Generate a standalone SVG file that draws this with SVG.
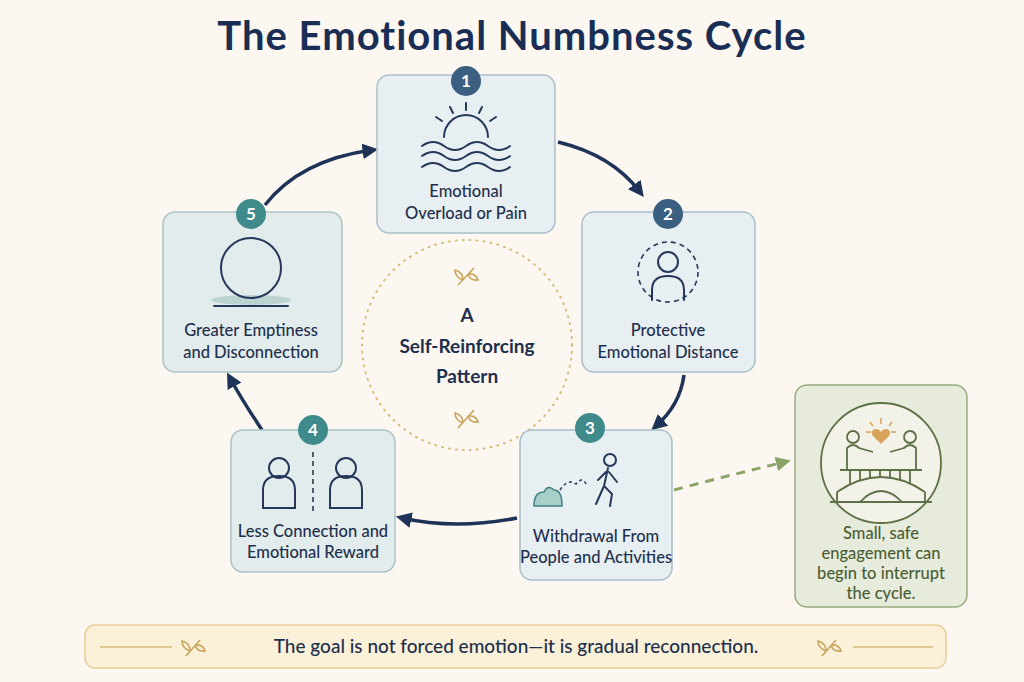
<svg xmlns="http://www.w3.org/2000/svg" width="1024" height="682" viewBox="0 0 1024 682">
<defs>
<style>
text{font-family:"Lato","Liberation Sans",sans-serif;}
.node{fill:#e8eff3;stroke:#a9bfcc;stroke-width:1.5;}
.node5{fill:#e3ecec;stroke:#a9c2c4;stroke-width:1.5;}
.lbl{fill:#1e2f4d;font-size:16.5px;font-weight:500;text-anchor:middle;}
.ic{fill:none;stroke:#26385a;stroke-width:2;stroke-linecap:round;}
.bn{fill:#fff;font-size:17px;font-weight:bold;text-anchor:middle;}
.arr{fill:none;stroke:#1f3358;stroke-width:3.5;marker-end:url(#ah);}
.leaf{fill:none;stroke:#c9a45a;stroke-width:1.6;}
.nt{fill:#4b5e32;font-size:16.5px;font-weight:500;text-anchor:middle;}
</style>
<marker id="ah" viewBox="0 0 10 10" refX="6" refY="5" markerWidth="4.5" markerHeight="4.5" orient="auto"><path d="M0,0 L10,5 L0,10 z" fill="#1f3358"/></marker>
<marker id="gh" viewBox="0 0 10 10" refX="6" refY="5" markerWidth="5" markerHeight="5" orient="auto"><path d="M0,0 L10,5 L0,10 z" fill="#8aa56a"/></marker>
</defs>
<rect width="1024" height="682" fill="#fcf8f1"/>
<text x="512" y="50" text-anchor="middle" font-size="40" font-weight="bold" letter-spacing="1" fill="#1a2e55">The Emotional Numbness Cycle</text>

<g id="connectors">
<path class="arr" d="M265,205 Q300,160 372,150"/>
<path class="arr" d="M558,142 Q612,155 640,192"/>
<path class="arr" d="M684,375 Q680,405 656,426"/>
<path class="arr" d="M517,518 Q455,530 402,518"/>
<path class="arr" d="M262,430 Q242,400 230,378"/>
<path d="M674,490 Q730,475 785,462" fill="none" stroke="#8aa56a" stroke-width="3" stroke-dasharray="9,7" marker-end="url(#gh)"/>
</g>

<g id="center">
<circle cx="467" cy="345" r="105" fill="none" stroke="#d9b978" stroke-width="2" stroke-dasharray="1,6" stroke-linecap="round"/>
<text x="467" y="322" text-anchor="middle" font-size="19" font-weight="bold" fill="#1e2f4d">A</text>
<text x="467" y="353" text-anchor="middle" font-size="19" font-weight="bold" fill="#1e2f4d">Self-Reinforcing</text>
<text x="467" y="383" text-anchor="middle" font-size="19" font-weight="bold" fill="#1e2f4d">Pattern</text>
<path class="leaf" d="M458,285 L474,268 M463,280 q-8,-3 -8,-10 q8,2 8,10 M468,274 q8,-1 10,6 q-8,1 -10,-6"/>
<path class="leaf" d="M458,428 L474,410 M463,423 q-8,-3 -8,-10 q8,2 8,10 M468,416 q8,-1 10,6 q-8,1 -10,-6"/>
</g>

<g id="node1">
<rect class="node" x="377" y="75" width="178" height="158" rx="12"/>
<path class="ic" d="M444,137 a22,22 0 0 1 44,0 M466,103 v7 M450,107 l3,6 M482,107 l-3,6 M436,117 l6,4 M496,117 l-6,4"/>
<path class="ic" d="M422,146 q11,-8 22,0 t22,0 t22,0 t22,0 M422,156 q11,-8 22,0 t22,0 t22,0 t22,0 M422,167 q11,-8 22,0 t22,0 t22,0 t22,0"/>
<text class="lbl" x="466" y="197">Emotional</text>
<text class="lbl" x="466" y="219">Overload or Pain</text>
<circle cx="466" cy="81" r="15" fill="#3b5f80"/><text class="bn" x="466" y="87">1</text>
</g>

<g id="node2">
<rect class="node" x="582" y="212" width="173" height="160" rx="12"/>
<circle cx="668" cy="272" r="30" fill="none" stroke="#26385a" stroke-width="1.6" stroke-dasharray="5,4"/>
<circle class="ic" cx="668" cy="262" r="10"/>
<path class="ic" d="M652,300 v-10 q0,-14 16,-14 q16,0 16,14 v10"/>
<text class="lbl" x="668" y="336">Protective</text>
<text class="lbl" x="668" y="358">Emotional Distance</text>
<circle cx="668" cy="214" r="15" fill="#3b5f80"/><text class="bn" x="668" y="220">2</text>
</g>

<g id="node3">
<rect class="node" x="520" y="430" width="152" height="150" rx="12"/>
<path d="M534,506 q0,-14 10,-14 q4,-8 10,-2 q8,0 8,16 z" fill="#a9cfc9" stroke="#3f7f82" stroke-width="1.5"/>
<path d="M560,490 q8,-12 16,-6 q6,-8 10,0" fill="none" stroke="#26385a" stroke-width="1.5" stroke-dasharray="3,3"/>
<circle class="ic" cx="610" cy="460" r="6"/>
<path class="ic" d="M608,468 l-4,18 l8,8 l-2,12 M604,486 l-8,18 M606,472 l-8,8 M609,472 l8,10"/>
<text class="lbl" x="596" y="542">Withdrawal From</text>
<text class="lbl" x="596" y="563">People and Activities</text>
<circle cx="590" cy="428" r="15" fill="#3f8a8a"/><text class="bn" x="590" y="434">3</text>
</g>

<g id="node4">
<rect class="node5" x="231" y="430" width="164" height="142" rx="12"/>
<circle class="ic" cx="279" cy="468" r="10"/>
<path class="ic" d="M263,508 v-18 q0,-14 16,-14 q16,0 16,14 v18 z"/>
<circle class="ic" cx="346" cy="468" r="10"/>
<path class="ic" d="M330,508 v-18 q0,-14 16,-14 q16,0 16,14 v18 z"/>
<path d="M313,452 v60" stroke="#26385a" stroke-width="1.6" stroke-dasharray="5,4"/>
<text class="lbl" x="313" y="537">Less Connection and</text>
<text class="lbl" x="313" y="558">Emotional Reward</text>
<circle cx="313" cy="430" r="15" fill="#3f8a8a"/><text class="bn" x="313" y="436">4</text>
</g>

<g id="node5">
<rect class="node5" x="163" y="212" width="179" height="160" rx="12"/>
<ellipse cx="251" cy="300" rx="40" ry="5" fill="#bcd3d2"/>
<circle class="ic" cx="251" cy="268" r="30"/>
<path class="ic" d="M214,306 h74"/>
<text class="lbl" x="251" y="336">Greater Emptiness</text>
<text class="lbl" x="251" y="358">and Disconnection</text>
<circle cx="251" cy="214" r="15" fill="#3f8a8a"/><text class="bn" x="251" y="220">5</text>
</g>

<g id="note">
<rect x="795" y="385" width="172" height="222" rx="12" fill="#e6ebdc" stroke="#98ac7e" stroke-width="1.5"/>
<circle cx="881" cy="463" r="60" fill="#f2f2e8" stroke="#5e7046" stroke-width="1.8"/>
<path d="M881,432 c-4,-6 -12,-2 -8,4 l8,8 l8,-8 c4,-6 -4,-10 -8,-4z" fill="#d9a35a"/>
<path d="M881,418 v6 M870,422 l3,4 M892,422 l-3,4 M866,432 h5 M891,432 h5" stroke="#d9a35a" stroke-width="1.5"/>
<g fill="none" stroke="#5e7046" stroke-width="1.8">
<circle cx="853" cy="437" r="6"/><circle cx="910" cy="437" r="6"/>
<path d="M847,470 v-22 q6,-6 12,0 l14,4 M916,470 v-22 q-6,-6 -12,0 l-14,4"/>
<path d="M837,492 q44,-30 88,0 M840,470 h82 M837,492 v10 M925,492 v10 M860,502 q21,-22 42,0"/>
<path d="M850,470 v14 M860,470 v10 M870,470 v8 M880,470 v8 M890,470 v8 M900,470 v10 M910,470 v14"/>
<path d="M830,502 h102"/>
</g>
<text class="nt" x="881" y="539">Small, safe</text>
<text class="nt" x="881" y="559">engagement can</text>
<text class="nt" x="881" y="579">begin to interrupt</text>
<text class="nt" x="881" y="599">the cycle.</text>
</g>

<g id="banner">
<rect x="85" y="625" width="861" height="43" rx="10" fill="#fbf1d8" stroke="#e6cf98" stroke-width="1.5"/>
<path d="M100,647 h72 M853,647 h80" stroke="#d9b978" stroke-width="1.5"/>
<path class="leaf" d="M186,656 L200,640 M190,651 q-8,-3 -8,-10 q8,2 8,10 M195,645 q8,-1 10,6 q-8,1 -10,-6"/>
<path class="leaf" d="M822,656 L836,640 M826,651 q-8,-3 -8,-10 q8,2 8,10 M831,645 q8,-1 10,6 q-8,1 -10,-6"/>
<text x="516" y="653" text-anchor="middle" font-size="19" font-weight="500" fill="#1e2f4d">The goal is not forced emotion—it is gradual reconnection.</text>
</g>
</svg>
